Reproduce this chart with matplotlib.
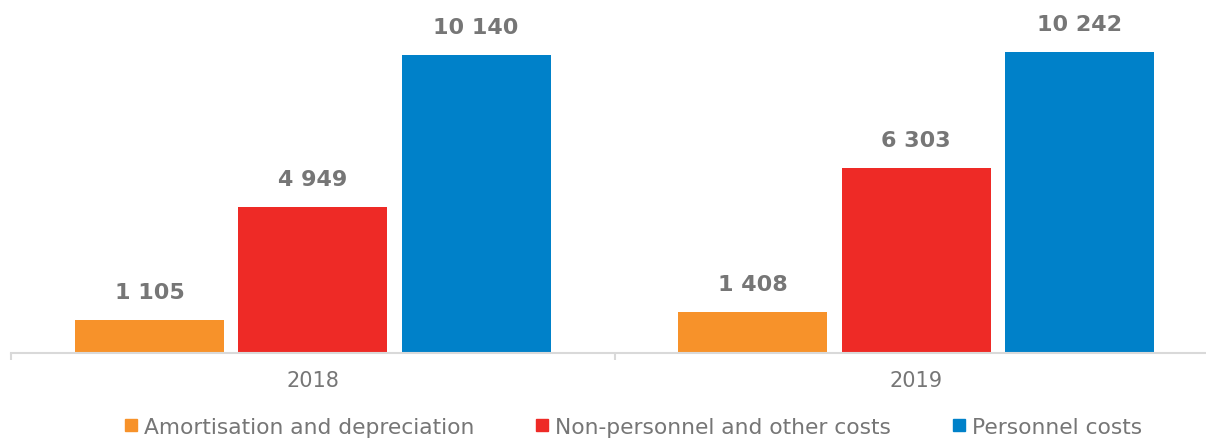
import numpy as np
import matplotlib
matplotlib.use('Agg')
from matplotlib import pyplot as plt
from matplotlib.lines import Line2D

years = ['2018', '2019']
series = ['Amortisation and depreciation', 'Non-personnel and other costs', 'Personnel costs']
amortisation = [1105, 1408]
non_personnel = [4949, 6303]
personnel = [10140, 10242]
colors = ['#f7922a', '#ee2a26', '#0081c9']

W, H = 1206, 439
fig = plt.figure(figsize=(W / 100, H / 100), dpi=100)
ax = fig.add_axes([11 / W, 1 - 354 / H, (1218 - 11) / W, 353 / H])

x = np.arange(len(years))
bw = 0.2467
offs = [-0.2707, 0.0, 0.2707]
label_gray = '#767676'

for vals, off, col in zip([amortisation, non_personnel, personnel], offs, colors):
    bars = ax.bar(x + off, vals, width=bw, color=col, zorder=2)
    for b, v in zip(bars, vals):
        txt = f'{v:,}'.replace(',', ' ')
        ax.annotate(txt, (b.get_x() + b.get_width() / 2, v), xytext=(0, 18),
                    textcoords='offset pixels', ha='center', va='bottom',
                    fontsize=16, fontweight='bold', color=label_gray)

ax.set_xlim(-0.5, 1.5)
ax.set_ylim(0, 12000)
ax.set_yticks([])
for s in ['top', 'right', 'left']:
    ax.spines[s].set_visible(False)
ax.spines['bottom'].set_color('#d9d9d9')
ax.spines['bottom'].set_linewidth(1.5)

ax.set_xticks(x)
ax.set_xticklabels(years, fontsize=15, color=label_gray)
ax.tick_params(axis='x', which='major', length=0, pad=12)
ax.set_xticks([-0.5, 0.5, 1.5], minor=True)
ax.tick_params(axis='x', which='minor', length=5, width=1.5, color='#d9d9d9')

handles = [Line2D([], [], marker='s', linestyle='none', markersize=9,
                  markerfacecolor=c, markeredgecolor=c) for c in colors]
fig.legend(handles, series, loc='center', bbox_to_anchor=(0.525, 1 - 428 / H),
           ncol=3, frameon=False, fontsize=15.7, labelcolor=label_gray,
           handlelength=0.6, handletextpad=0.3, columnspacing=2.8,
           borderaxespad=0, borderpad=0)

fig.savefig('out.png', dpi=100, facecolor='white')
